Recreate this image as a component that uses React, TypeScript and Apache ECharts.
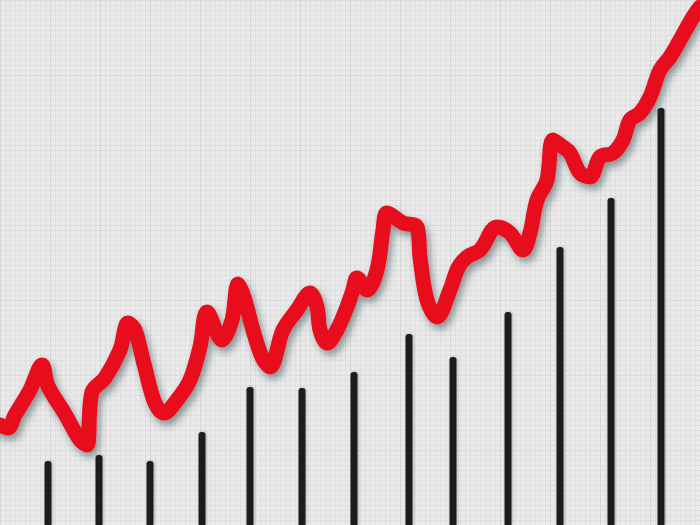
import React, { useEffect, useRef } from "react";
import * as echarts from "echarts";

// Red line trace (x position, height from bottom)
const lineX = [0, 8, 15, 30, 42, 48, 65, 80, 87, 92, 105, 120, 128, 135, 144, 155, 164, 177, 190, 200, 207, 222, 232, 238, 244, 253, 262, 270, 283, 297, 310, 317, 320, 327, 337, 347, 353, 357, 367, 377, 383, 387, 403, 417, 420, 427, 437, 450, 458, 467, 480, 497, 510, 523, 530, 537, 547, 553, 563, 570, 580, 590, 600, 613, 623, 630, 640, 650, 660, 670, 680, 693, 700];
const lineY = [100, 97, 110, 135, 160, 139, 111, 85, 80, 133, 147, 175, 202, 195, 161, 122, 112, 125, 145, 178, 213, 185, 205, 241, 228, 195, 168, 158, 195, 215, 232, 218, 195, 182, 195, 218, 235, 247, 235, 255, 295, 312, 302, 298, 268, 225, 208, 235, 257, 268, 275, 298, 292, 275, 292, 325, 345, 385, 378, 372, 352, 348, 368, 372, 385, 405, 412, 428, 455, 468, 485, 508, 518];

// Black bars (x position, height from bottom)
const barX = [48, 99, 150, 202, 250, 302, 354, 409, 453, 508, 560, 611, 661];
const barH = [64, 70, 64, 93, 138, 137, 153, 191, 168, 213, 278, 327, 417];

export default function App() {
  const ref = useRef<HTMLDivElement>(null);
  useEffect(() => {
    const chart = echarts.init(ref.current!, null, { renderer: "svg" });
    chart.setOption({
      animation: false,
      backgroundColor: "#ebeaeb",
      grid: { left: 0, right: 0, top: 0, bottom: 0 },
      xAxis: {
        type: "value",
        min: 0,
        max: 700,
        interval: 50,
        axisLine: { show: false },
        axisTick: { show: false },
        axisLabel: { show: false },
        splitLine: { show: true, lineStyle: { color: "#d6d5d6", width: 1 } },
        minorTick: { show: false, splitNumber: 10 },
        minorSplitLine: { show: true, lineStyle: { color: "#dfdedf", width: 1 } },
      },
      yAxis: {
        type: "value",
        min: 0,
        max: 525,
        interval: 75,
        axisLine: { show: false },
        axisTick: { show: false },
        axisLabel: { show: false },
        splitLine: { show: true, lineStyle: { color: "#dcdbdc", width: 1 } },
        minorTick: { show: false, splitNumber: 15 },
        minorSplitLine: { show: true, lineStyle: { color: "#e0dfe0", width: 1 } },
      },
      series: [
        {
          type: "bar",
          data: barX.map((x, i) => [x, barH[i]]),
          barWidth: 7,
          itemStyle: {
            color: "#1f1f1f",
            borderRadius: [3, 3, 0, 0],
            shadowColor: "rgba(0,0,0,0.25)",
            shadowBlur: 3,
            shadowOffsetX: 1,
          },
          z: 2,
        },
        {
          type: "line",
          data: lineX.map((x, i) => [x, lineY[i]]),
          smooth: 0.35,
          showSymbol: false,
          lineStyle: {
            color: "#e8101c",
            width: 15,
            cap: "round",
            join: "round",
            shadowColor: "rgba(30,50,50,0.45)",
            shadowBlur: 7,
            shadowOffsetX: 3,
            shadowOffsetY: 5,
          },
          z: 3,
        },
      ],
    });
    return () => chart.dispose();
  }, []);
  return (
    <div
      ref={ref}
      style={{ position: "fixed", left: 0, top: 0, width: 700, height: 525 }}
    />
  );
}
